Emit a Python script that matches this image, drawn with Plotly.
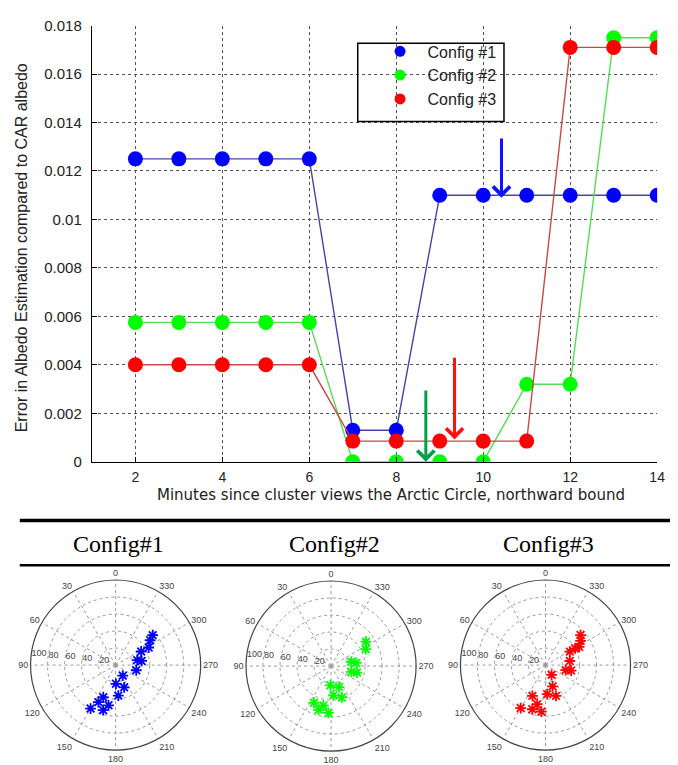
import plotly.graph_objects as go

W, H = 678, 765

# ---------------- data ----------------
minutes = [2, 3, 4, 5, 6, 7, 8, 9, 10, 11, 12, 13, 14]
config1 = [0.0125, 0.0125, 0.0125, 0.0125, 0.0125, 0.0013, 0.0013, 0.011, 0.011, 0.011, 0.011, 0.011, 0.011]
config2 = [0.00575, 0.00575, 0.00575, 0.00575, 0.00575, 0.0, 0.0, 0.0, 0.0, 0.0032, 0.0032, 0.0175, 0.0175]
config3 = [0.004, 0.004, 0.004, 0.004, 0.004, 0.00085, 0.00085, 0.00085, 0.00085, 0.00085, 0.0171, 0.0171, 0.0171]
series_names = ["Config #1", "Config #2", "Config #3"]

x_ticks = [2, 4, 6, 8, 10, 12, 14]
y_ticks = [0, 0.002, 0.004, 0.006, 0.008, 0.01, 0.012, 0.014, 0.016, 0.018]
y_ticklabels = ["0", "0.002", "0.004", "0.006", "0.008", "0.01", "0.012", "0.014", "0.016", "0.018"]

# arrows (minute, tail value, tip value)
arrow_minutes = [10.42, 8.68, 9.34]
arrow_tails = [0.0134, 0.0030, 0.00435]
arrow_tips = [0.0109, 0.0000, 0.00092]

# polar panels (theta in degrees, r)
polar_titles = ["Config#1", "Config#2", "Config#3"]
p1_theta = [309, 305.7, 298, 298, 283, 279, 256, 214, 181, 201, 185, 159, 155, 170, 150, 164.5]
p1_r = [56, 50, 44, 34, 26, 31, 25, 15, 22, 28, 36, 40.5, 48, 48, 59, 55]
p2_theta = [305, 296, 282, 277, 254, 256, 178, 201, 184.6, 199, 155, 169, 164, 176.7]
p2_r = [50, 45.4, 24.4, 30, 24.8, 31.5, 22.6, 26.4, 34.6, 39, 47.6, 47.2, 53.6, 55.2]
p3_theta = [310.6, 304.7, 298.4, 299.6, 299, 279.5, 256, 258, 212, 198.4, 183.3, 198.8, 157, 168, 150, 163.4, 175]
p3_r = [54.3, 50.2, 45, 40, 32.7, 29, 24.5, 30.8, 13.5, 26.4, 34.2, 38.2, 39.3, 47, 58.3, 54.2, 55]
angle_ticks = [0, 30, 60, 90, 120, 150, 180, 210, 240, 270, 300, 330]
angle_labels = ["0", "30", "60", "90", "120", "150", "180", "210", "240", "270", "300", "330"]
radial_ticks = [20, 40, 60, 80, 100]
radial_labels = ["20", "40", "60", "80", "100"]

# ---------------- styles ----------------
marker_colors = ["#0000ff", "#00ff00", "#ff0000"]
line_colors = ["#4444aa", "#55dd55", "#c84848"]
arrow_colors = ["#1010ff", "#00a04a", "#ff1010"]


def px_x(p):
    return p / W


def px_y(p):
    return 1 - p / H


fig = go.Figure()

for vals, name, mc, lc in zip([config1, config2, config3], series_names, marker_colors, line_colors):
    fig.add_trace(go.Scatter(
        x=minutes, y=vals, mode="lines+markers", name=name, showlegend=False,
        line=dict(color=lc, width=1.4),
        marker=dict(color=mc, size=15, line=dict(width=0)),
        xaxis="x", yaxis="y"))

for name, mc in zip(series_names, marker_colors):
    fig.add_trace(go.Scatter(
        x=[None], y=[None], mode="markers", name=name, showlegend=True,
        marker=dict(color=mc, size=11), xaxis="x", yaxis="y"))

polar_data = [(p1_theta, p1_r), (p2_theta, p2_r), (p3_theta, p3_r)]
for i, ((th, rr), mc) in enumerate(zip(polar_data, marker_colors)):
    sub = "polar" if i == 0 else f"polar{i + 1}"
    fig.add_trace(go.Scatterpolar(
        theta=th, r=rr, mode="markers", subplot=sub, showlegend=False,
        marker=dict(symbol="asterisk-open", size=9, color=mc, line=dict(color=mc, width=1.8))))

grid_common = dict(showgrid=True, gridcolor="#555555", griddash="dot", gridwidth=1,
                   zeroline=False, ticks="inside", ticklen=5, tickcolor="black",
                   showline=True, linecolor="black", linewidth=1.2)

fig.update_layout(
    width=W, height=H,
    margin=dict(l=0, r=0, t=0, b=0),
    paper_bgcolor="white", plot_bgcolor="white",
    xaxis=dict(domain=[px_x(93), px_x(665)], range=[1, 14], tickvals=x_ticks,
               anchor="y", ticklabelstandoff=2,
               tickfont=dict(family="Liberation Sans, Arial", size=14, color="#222222"),
               **grid_common),
    yaxis=dict(domain=[px_y(463), px_y(17)], range=[0, 0.018], tickvals=y_ticks,
               ticktext=y_ticklabels, anchor="x", ticklabelstandoff=6,
               tickfont=dict(family="Liberation Sans, Arial", size=15, color="#222222"),
               **grid_common),
    legend=dict(x=px_x(377), y=px_y(26), xanchor="left", yanchor="top",
                bgcolor="rgba(0,0,0,0)", borderwidth=0, itemwidth=45,
                font=dict(family="Liberation Sans, Arial", size=16, color="#222222")),
    showlegend=True,
)

# legend box
fig.add_shape(type="rect", xref="paper", yref="paper",
              x0=px_x(362), x1=px_x(510), y0=px_y(115), y1=px_y(35),
              line=dict(color="black", width=1.5), fillcolor="rgba(0,0,0,0)")

# arrows
for xm, tail, tip, col in zip(arrow_minutes, arrow_tails, arrow_tips, arrow_colors):
    fig.add_annotation(x=xm, y=tip, ax=xm, ay=tail, xref="x", yref="y", axref="x", ayref="y",
                       showarrow=True, arrowhead=4, arrowsize=1.1, arrowwidth=3, arrowcolor=col,
                       text="")

# axis titles
fig.add_annotation(x=px_x(396), y=px_y(497), xref="paper", yref="paper", showarrow=False,
                   xanchor="center", yanchor="middle",
                   text="Minutes since cluster views the Arctic Circle, northward bound",
                   font=dict(family="DejaVu Sans", size=15, color="#222222"))
fig.add_annotation(x=px_x(22), y=px_y(244), xref="paper", yref="paper", showarrow=False,
                   xanchor="center", yanchor="middle",
                   text="Error in Albedo Estimation compared to CAR albedo", textangle=-90,
                   font=dict(family="Liberation Sans, Arial", size=16, color="#222222"))

# separator lines
fig.add_shape(type="line", xref="paper", yref="paper", x0=px_x(20), x1=1.0,
              y0=px_y(523), y1=px_y(523), line=dict(color="black", width=3.5))
fig.add_shape(type="line", xref="paper", yref="paper", x0=px_x(20), x1=1.0,
              y0=px_y(569), y1=px_y(569), line=dict(color="black", width=2.5))

title_centers = [120, 338, 555]
for t, cx in zip(polar_titles, title_centers):
    fig.add_annotation(x=px_x(cx), y=px_y(547), xref="paper", yref="paper", showarrow=False,
                       xanchor="center", yanchor="middle",
                       text=t, font=dict(family="Liberation Serif, Times New Roman", size=24, color="black"))

# polar layouts
centers = [(117, 671), (335, 672), (552, 671)]
R = 87
for i, (cx, cy) in enumerate(centers):
    key = "polar" if i == 0 else f"polar{i + 1}"
    fig.update_layout({key: dict(
        domain=dict(x=[px_x(cx - R), px_x(cx + R)], y=[px_y(cy + R), px_y(cy - R)]),
        bgcolor="white",
        angularaxis=dict(rotation=90, direction="counterclockwise", tickmode="array",
                         tickvals=angle_ticks, ticktext=angle_labels, ticks="",
                         showline=True, linecolor="#444444", linewidth=1.2,
                         gridcolor="#999999", griddash="dot", gridwidth=1,
                         tickfont=dict(family="Liberation Sans, Arial", size=9, color="#444444")),
        radialaxis=dict(range=[0, 100], tickmode="array", tickvals=radial_ticks, ticktext=radial_labels,
                        showline=False, ticks="", angle=174, tickangle=174, side="clockwise",
                        gridcolor="#999999", griddash="dot", gridwidth=1,
                        tickfont=dict(family="Liberation Sans, Arial", size=9, color="#444444")),
    )})

fig.write_html("out.html")
